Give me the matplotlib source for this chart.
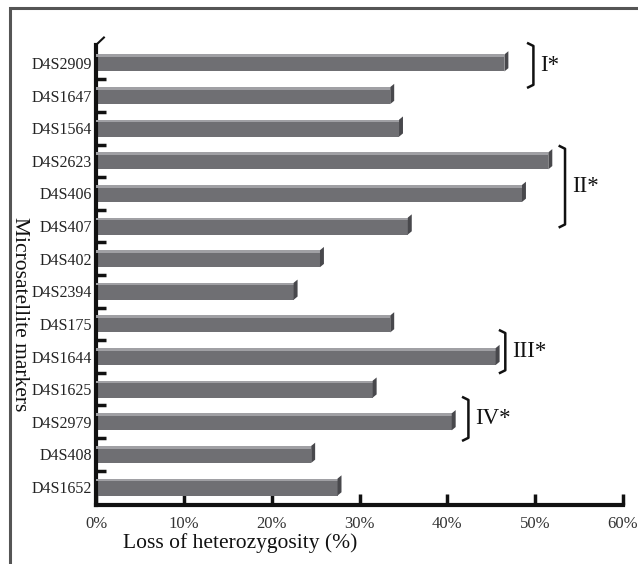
import matplotlib
matplotlib.use("Agg")
import matplotlib.pyplot as plt
from matplotlib.patches import Polygon, Rectangle
from matplotlib.lines import Line2D

markers = ["D4S2909", "D4S1647", "D4S1564", "D4S2623", "D4S406", "D4S407",
           "D4S402", "D4S2394", "D4S175", "D4S1644", "D4S1625", "D4S2979",
           "D4S408", "D4S1652"]
loh = [46.5, 33.5, 34.5, 51.5, 48.5, 35.5, 25.5, 22.5, 33.5, 45.5, 31.5, 40.5, 24.5, 27.5]
xticks = [0, 10, 20, 30, 40, 50, 60]
xticklabels = ["0%", "10%", "20%", "30%", "40%", "50%", "60%"]
groups = ["I*", "II*", "III*", "IV*"]
group_x = [49.8, 53.4, 46.6, 42.4]
group_y0 = [-0.6, 2.55, 8.2, 10.25]
group_y1 = [0.75, 5.03, 9.5, 11.57]

plt.rcParams['font.family'] = ['Liberation Serif', 'DejaVu Serif']

fig = plt.figure(figsize=(6.38, 5.64), dpi=100)
ax = fig.add_axes([96/638, 1-505/564, (623-96)/638, (505-45)/564])

ypos = list(range(len(markers)))
h = 0.52
face = "#6f6f73"
ax.barh(ypos, loh, height=h, color=face, edgecolor="none", zorder=2)
# top highlight strip
ax.barh([y - h/2 + 0.04 for y in ypos], loh, height=0.08, color="#a0a0a4",
        edgecolor="none", zorder=3)
# right-end 3D side
dx, dy = 0.45, 0.1
for y, v in zip(ypos, loh):
    poly = Polygon([(v, y - h/2), (v + dx, y - h/2 - dy), (v + dx, y + h/2 - dy), (v, y + h/2)],
                   closed=True, facecolor="#48484c", edgecolor="none", zorder=3)
    ax.add_patch(poly)

ax.set_xlim(0, 60)
ax.set_ylim(13.55, -0.55)
ax.set_xticks(xticks)
ax.set_xticklabels(xticklabels, fontsize=12, color="#333333")
ax.set_yticks(ypos)
ax.set_yticklabels(markers, fontsize=11.5, color="#222222")
ax.set_yticks([y + 0.5 for y in ypos[:-1]], minor=True)
ax.tick_params(axis='y', which='major', length=0, pad=3)
ax.tick_params(axis='y', which='minor', direction='in', length=7, width=2.5, color="#111111")
ax.tick_params(axis='x', which='major', direction='in', length=8, width=2.5, color="#111111", pad=8)
for s in ["top", "right"]:
    ax.spines[s].set_visible(False)
for s in ["left", "bottom"]:
    ax.spines[s].set_linewidth(3)
    ax.spines[s].set_color("#111111")

# top corner of 3D axis
ax.add_line(Line2D([0, 0.9], [-0.55, -0.78], color="#111111", lw=1.5, clip_on=False))

# group brackets
for g, gx, y0, y1 in zip(groups, group_x, group_y0, group_y1):
    w = 0.6
    ax.plot([gx - w, gx, gx, gx - w], [y0, y0 + 0.08, y1 - 0.08, y1], color="#111111",
            lw=1.8, clip_on=False, zorder=5, solid_joinstyle="round")
    ax.text(gx + 0.8, (y0 + y1) / 2, g, fontsize=16.5, va="center", ha="left", color="#111111")

fig.text(240/638, 1-543/564, "Loss of heterozygosity (%)", fontsize=15.5, ha="center",
         va="center", color="#111111")
fig.text(19/638, 1-314/564, "Microsatellite markers", fontsize=15.5, ha="center",
         va="center", rotation=-90, color="#111111")

# outer frame
fig.patches.append(Rectangle((10/638, -0.1), 1.2, 1.1 - 8/564, transform=fig.transFigure,
                             fill=False, edgecolor="#555555", lw=2.2))

fig.savefig("out.png", dpi=100)
